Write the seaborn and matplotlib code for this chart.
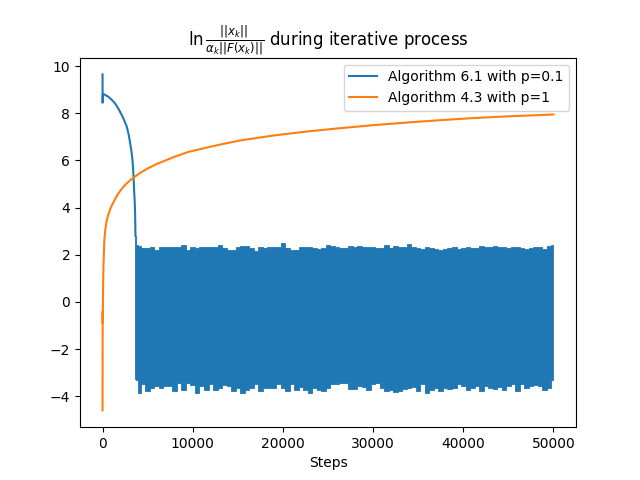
import numpy as np
import matplotlib
matplotlib.use("Agg")
import matplotlib.pyplot as plt
import seaborn as sns

# Algorithm 6.1 (p=0.1): smooth part before it starts oscillating
alg61_steps = [0, 5, 40, 200, 650, 1000, 1390, 1750, 2130, 2400, 2690, 2900,
               3060, 3200, 3320, 3420, 3500, 3560, 3610, 3650]
alg61_vals = [9.65, 8.45, 8.82, 8.80, 8.70, 8.58, 8.42, 8.20, 7.93, 7.70, 7.43,
              7.10, 6.73, 6.40, 6.02, 5.45, 4.75, 4.30, 3.78, 2.80]

# oscillating part: upper / lower envelope
band_steps = [3650, 3800] + list(range(4000, 50001, 500))
band_upper = [2.80, 2.40,
              2.39, 2.28, 2.28, 2.35, 2.21, 2.35, 2.34, 2.34, 2.34, 2.35,
              2.42, 2.20, 2.34, 2.28, 2.34, 2.34, 2.32, 2.34, 2.42, 2.28,
              2.22, 2.22, 2.34, 2.39, 2.39, 2.28, 2.14, 2.34, 2.28, 2.31,
              2.31, 2.34, 2.48, 2.28, 2.22, 2.20, 2.34, 2.31, 2.31, 2.28,
              2.25, 2.28, 2.42, 2.36, 2.31, 2.28, 2.28, 2.39, 2.31, 2.36,
              2.31, 2.31, 2.35, 2.28, 2.28, 2.42, 2.28, 2.36, 2.31, 2.31,
              2.45, 2.34, 2.28, 2.26, 2.31, 2.28, 2.25, 2.22, 2.25, 2.28,
              2.31, 2.25, 2.28, 2.31, 2.28, 2.28, 2.36, 2.31, 2.34, 2.39,
              2.31, 2.34, 2.28, 2.32, 2.34, 2.28, 2.25, 2.29, 2.35, 2.31,
              2.25, 2.36, 2.42]
band_lower = [-3.25, -3.30,
              -3.86, -3.50, -3.79, -3.64, -3.57, -3.64, -3.57, -3.57, -3.79, -3.43,
              -3.72, -3.43, -3.54, -3.86, -3.57, -3.72, -3.46, -3.72, -3.64, -3.54,
              -3.57, -3.79, -3.64, -3.86, -3.72, -3.64, -3.46, -3.79, -3.64, -3.64,
              -3.64, -3.46, -3.64, -3.79, -3.50, -3.72, -3.60, -3.72, -3.86, -3.64,
              -3.72, -3.79, -3.64, -3.50, -3.46, -3.43, -3.43, -3.68, -3.68, -3.57,
              -3.60, -3.72, -3.50, -3.43, -3.64, -3.79, -3.72, -3.84, -3.79, -3.68,
              -3.63, -3.60, -3.79, -3.50, -3.86, -3.72, -3.64, -3.79, -3.64, -3.68,
              -3.64, -3.50, -3.57, -3.72, -3.64, -3.57, -3.79, -3.57, -3.64, -3.68,
              -3.60, -3.75, -3.57, -3.50, -3.79, -3.46, -3.64, -3.57, -3.54, -3.57,
              -3.72, -3.64, -3.29]

# Algorithm 4.3 (p=1)
alg43_steps = [0, 10, 20, 30, 40, 60, 100, 200, 300, 460, 600, 830, 1000, 1390,
               1700, 2130, 2600, 3240, 4170, 5000, 6000, 7870, 9500, 11580,
               13500, 15280, 18980, 22690, 26390, 30090, 33800, 37500, 41200,
               44910, 50000]
alg43_vals = [-4.6, -1.3, -0.4, -0.9, -0.2, 0.6, 1.5, 2.63, 3.05, 3.45, 3.65,
              3.92, 4.07, 4.36, 4.57, 4.80, 5.00, 5.22, 5.47, 5.66, 5.85, 6.14,
              6.36, 6.55, 6.71, 6.85, 7.06, 7.23, 7.37, 7.50, 7.61, 7.71, 7.80,
              7.87, 7.95]

fig, ax = plt.subplots(figsize=(6.4, 4.8), dpi=100)

sns.lineplot(x=alg61_steps, y=alg61_vals, estimator=None, sort=False,
             color="C0", label="Algorithm 6.1 with p=0.1", ax=ax)
ax.fill_between(band_steps, band_lower, band_upper, step="mid",
                color="C0", lw=0.6)
sns.lineplot(x=alg43_steps, y=alg43_vals, estimator=None, sort=False,
             color="C1", label="Algorithm 4.3 with p=1", ax=ax)

ax.set_title(r"$\ln\frac{||x_k||}{\alpha_k||F(x_k)||}$ during iterative process")
ax.set_xlabel("Steps")
ax.set_ylabel("")
ax.legend(loc="upper right")

plt.savefig("out.png")
